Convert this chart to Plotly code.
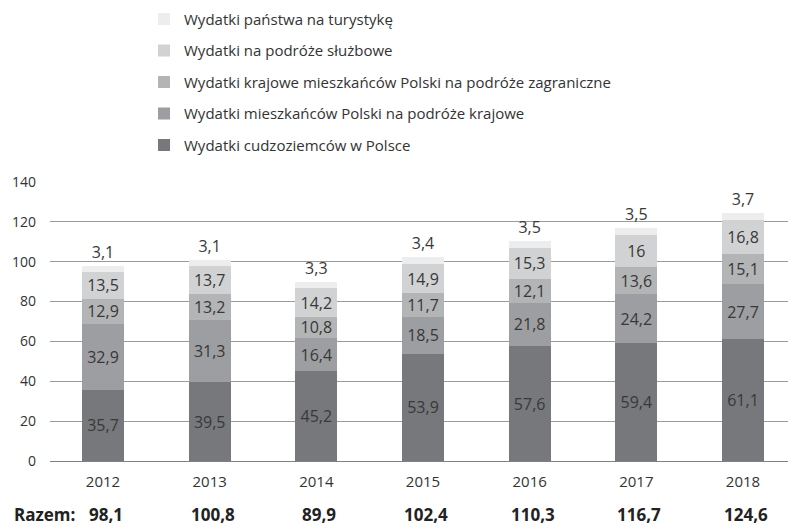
import plotly.graph_objects as go

years = ["2012", "2013", "2014", "2015", "2016", "2017", "2018"]
cudzoziemcow = [35.7, 39.5, 45.2, 53.9, 57.6, 59.4, 61.1]
krajowe = [32.9, 31.3, 16.4, 18.5, 21.8, 24.2, 27.7]
zagraniczne = [12.9, 13.2, 10.8, 11.7, 12.1, 13.6, 15.1]
sluzbowe = [13.5, 13.7, 14.2, 14.9, 15.3, 16, 16.8]
panstwa = [3.1, 3.1, 3.3, 3.4, 3.5, 3.5, 3.7]
razem = [98.1, 100.8, 89.9, 102.4, 110.3, 116.7, 124.6]

series = [
    ("Wydatki cudzoziemców w Polsce", cudzoziemcow, "#77787b"),
    ("Wydatki mieszkańców Polski na podróże krajowe", krajowe, "#9d9ea1"),
    ("Wydatki krajowe mieszkańców Polski na podróże zagraniczne", zagraniczne, "#b3b4b6"),
    ("Wydatki na podróże służbowe", sluzbowe, "#d1d2d3"),
    ("Wydatki państwa na turystykę", panstwa, "#ededed"),
]

def fmt(v):
    return f"{v:g}".replace(".", ",")

FONT = "Open Sans"
TXT = "#383838"
fig = go.Figure()
n = len(series)
for i, (name, vals, col) in enumerate(series):
    last = i == n - 1
    fig.add_trace(go.Bar(
        x=years, y=vals, name=name, marker=dict(color=col, line=dict(width=0)),
        width=0.394,
        text=[fmt(v) for v in vals],
        textposition="outside" if last else "inside",
        insidetextanchor="middle",
        constraintext="none",
        textangle=0,
        textfont=dict(family=FONT, size=16, color=TXT),
        insidetextfont=dict(family=FONT, size=16, color=TXT),
        outsidetextfont=dict(family=FONT, size=16, color=TXT),
        cliponaxis=False,
        legendgroup=str(i),
        legendrank=100 - i,
    ))

RY = -0.1935
annotations = [dict(x=-0.0515, y=RY, xref="paper", yref="paper", text="<b>Razem:</b>",
                    showarrow=False, xanchor="left", yanchor="middle",
                    font=dict(family=FONT, size=17, color="#222"))]
for idx, r in enumerate(razem):
    annotations.append(dict(x=idx, y=RY, xref="x", yref="paper", text="<b>" + fmt(r) + "</b>",
                            showarrow=False, xanchor="center", yanchor="middle", xshift=3,
                            font=dict(family=FONT, size=17, color="#222")))

fig.update_layout(
    width=788, height=525,
    margin=dict(l=50, r=0, t=182, b=64),
    barmode="stack",
    plot_bgcolor="white", paper_bgcolor="white",
    font=dict(family=FONT, size=14, color="#333"),
    xaxis=dict(type="category", range=[-0.497, 6.422], showgrid=False, showline=False,
               ticks="", tickfont=dict(size=15, color="#333"), ticklabelstandoff=10),
    yaxis=dict(range=[0, 140], dtick=20, showgrid=True, gridcolor="#9a9a9a", gridwidth=1,
               zeroline=True, zerolinecolor="#808080", zerolinewidth=1,
               tickfont=dict(size=14, color="#333"), ticklabelstandoff=13),
    legend=dict(x=0.1274, y=0.995, yref="container", xanchor="left", yanchor="top",
                traceorder="grouped", tracegroupgap=9,
                font=dict(family=FONT, size=15, color="#333"),
                itemwidth=30, bgcolor="rgba(0,0,0,0)"),
    annotations=annotations,
    showlegend=True,
)
fig.write_html("out.html", config={"displayModeBar": False},
               post_script="document.body.style.margin='0';")
